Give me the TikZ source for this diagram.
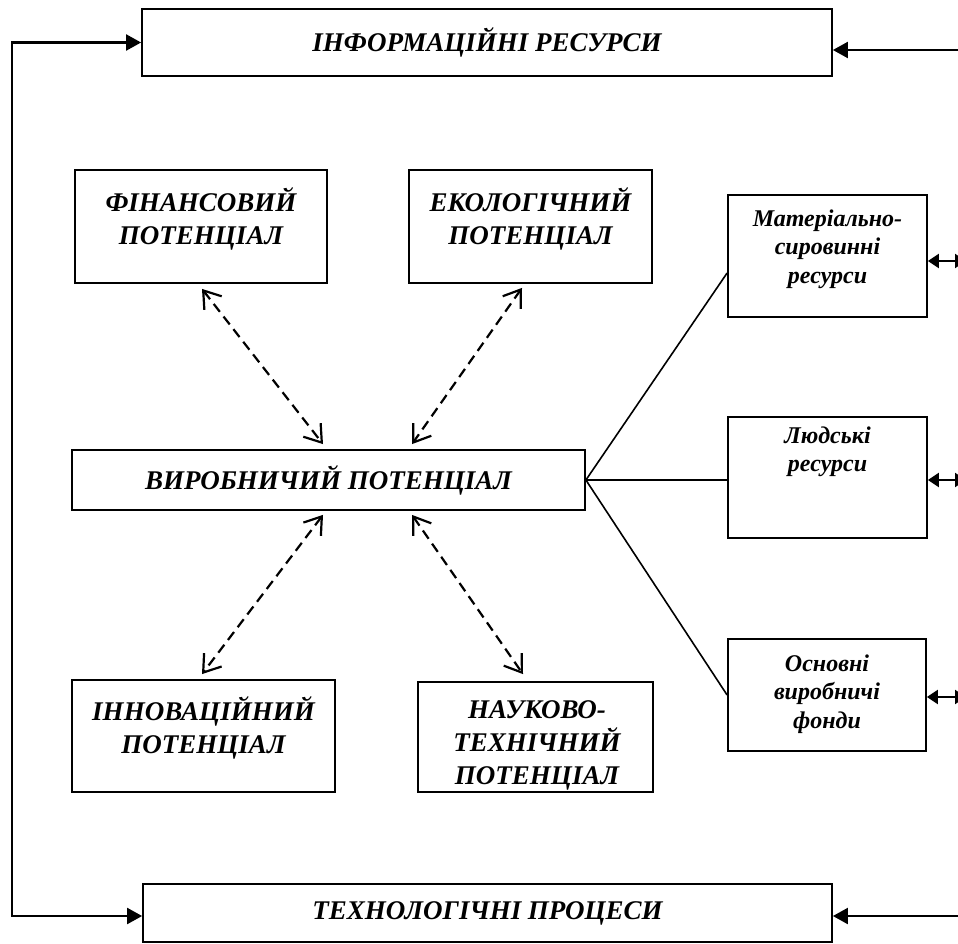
\documentclass[tikz,border=0pt]{standalone}
\usepackage{fontspec}
\setmainfont{Liberation Serif}
\usetikzlibrary{arrows.meta,calc}
\begin{document}
\begin{tikzpicture}[x=1pt,y=-1pt,
  box/.style={draw,line width=1.8pt,inner sep=0pt,fill=white},
  big/.style={font=\bfseries\itshape\fontsize{27}{33}\selectfont,align=center,inner sep=0pt},
  small/.style={font=\bfseries\itshape\fontsize{24}{28.5}\selectfont,align=center,inner sep=0pt},
  loopline/.style={line width=2.2pt},
  tri/.tip={Triangle[length=15pt,width=16pt]},
  smalltri/.tip={Triangle[length=11pt,width=14pt]},
  barb/.tip={Straight Barb[length=16pt,width=22pt]},
  dasharr/.style={line width=2.2pt,dash pattern=on 10pt off 6pt,barb-barb},
  link/.style={line width=1.6pt}]
\useasboundingbox (0,0) rectangle (958,943);
\clip (0,0) rectangle (958,943);

% boxes
\node[box,minimum width=690pt,minimum height=67pt] (info) at (487,42.5) {};
\node[box,minimum width=689pt,minimum height=58pt] (tech) at (487.5,913) {};
\node[box,minimum width=252pt,minimum height=113pt] (fin) at (201,226.5) {};
\node[box,minimum width=243pt,minimum height=113pt] (eco) at (530.5,226.5) {};
\node[box,minimum width=513pt,minimum height=60pt] (vyr) at (328.5,480) {};
\node[box,minimum width=263pt,minimum height=112pt] (inn) at (203.5,736) {};
\node[box,minimum width=235pt,minimum height=110pt] (nt) at (535.5,737) {};
\node[box,minimum width=199pt,minimum height=122pt] (mat) at (827.5,256) {};
\node[box,minimum width=199pt,minimum height=121pt] (lyud) at (827.5,477.5) {};
\node[box,minimum width=198pt,minimum height=112pt] (osn) at (827,695) {};

% labels
\node[big] (info-t) at (487,42.5) {ІНФОРМАЦІЙНІ РЕСУРСИ};
\node[big] (tech-t) at (487.5,913) {ТЕХНОЛОГІЧНІ ПРОЦЕСИ};
\node[big] (fin-t) at (201,219) {ФІНАНСОВИЙ\\ПОТЕНЦІАЛ};
\node[big] (eco-t) at (530.5,219) {ЕКОЛОГІЧНИЙ\\ПОТЕНЦІАЛ};
\node[big] (vyr-t) at (328.5,480) {ВИРОБНИЧИЙ ПОТЕНЦІАЛ};
\node[big] (inn-t) at (203.5,728) {ІННОВАЦІЙНИЙ\\ПОТЕНЦІАЛ};
\node[big] (nt-t) at (537,745) {НАУКОВО-\\ТЕХНІЧНИЙ\\ПОТЕНЦІАЛ};
\node[small] (mat-t) at (827.5,249) {Матеріально-\\сировинні\\ресурси};
\node[small] (lyud-t) at (827.5,452) {Людські\\ресурси};
\node[small] (osn-t) at (827,694) {Основні\\виробничі\\фонди};

% outer loop
\coordinate (lt) at (12,42.5);
\coordinate (lb) at (12,916);
\coordinate (rt) at (962,50);
\coordinate (rb) at (962,916);
\draw[loopline,tri-tri] (info.west) -- (lt) -- (lb) -- ([yshift=-3pt]tech.west);
\draw[loopline,-tri] (rt) -- ([yshift=-7.5pt]info.east);
\draw[loopline,-tri] (rb) -- ([yshift=-3pt]tech.east);

% right double arrows
\coordinate (r1) at (966,261);
\coordinate (r2) at (966,480);
\coordinate (r3) at (966,697);
\draw[loopline,smalltri-smalltri] ([yshift=-5pt]mat.east) -- (r1);
\draw[loopline,smalltri-smalltri] ([yshift=-2.5pt]lyud.east) -- (r2);
\draw[loopline,smalltri-smalltri] ([yshift=-2pt]osn.east) -- (r3);

% links from production potential
\draw[link] (vyr.east) -- ([yshift=-17pt]mat.west);
\draw[link] (vyr.east) -- (vyr.east -| lyud.west);
\draw[link] (vyr.east) -- (osn.west);

% dashed interactions
\draw[dasharr] ([xshift=1pt,yshift=-5pt]fin.south) -- ([xshift=-5.5pt,yshift=5pt]vyr.north);
\draw[dasharr] ([xshift=-8.5pt,yshift=-4pt]eco.south) -- ([xshift=83.5pt,yshift=5pt]vyr.north);
\draw[dasharr] ([xshift=-5.5pt,yshift=-4pt]vyr.south) -- ([xshift=-1.5pt,yshift=5pt]inn.north);
\draw[dasharr] ([xshift=83.5pt,yshift=-4pt]vyr.south) -- ([xshift=-12.5pt,yshift=7pt]nt.north);
\end{tikzpicture}
\end{document}
